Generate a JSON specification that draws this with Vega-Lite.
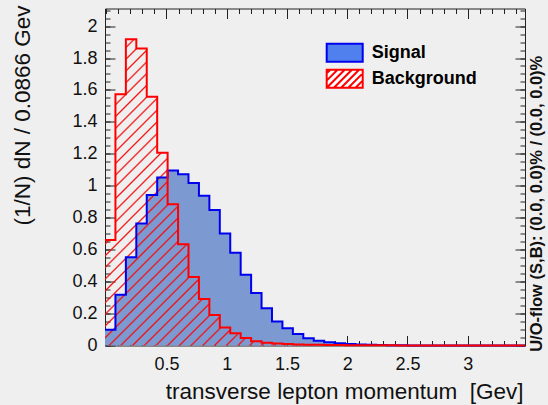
{
"$schema": "https://vega.github.io/schema/vega-lite/v6.json",
"width": 420, "height": 337,
"autosize": {"type": "none"},
"padding": {"left": 105, "top": 8.5, "right": 23, "bottom": 59.5},
"background": "#efefef",
"data": {"values": [
{"x": -0.01, "sig": 0.099, "bkg": 0.66},
{"x": 0.0766, "sig": 0.317, "bkg": 1.573},
{"x": 0.1632, "sig": 0.552, "bkg": 1.918},
{"x": 0.2498, "sig": 0.764, "bkg": 1.86},
{"x": 0.3364, "sig": 0.943, "bkg": 1.558},
{"x": 0.423, "sig": 1.052, "bkg": 1.207},
{"x": 0.5096, "sig": 1.096, "bkg": 0.884},
{"x": 0.5962, "sig": 1.072, "bkg": 0.634},
{"x": 0.6828, "sig": 1.017, "bkg": 0.429},
{"x": 0.7694, "sig": 0.938, "bkg": 0.291},
{"x": 0.856, "sig": 0.849, "bkg": 0.191},
{"x": 0.9426, "sig": 0.702, "bkg": 0.112},
{"x": 1.0292, "sig": 0.581, "bkg": 0.076},
{"x": 1.1158, "sig": 0.443, "bkg": 0.047},
{"x": 1.2024, "sig": 0.328, "bkg": 0.026},
{"x": 1.289, "sig": 0.233, "bkg": 0.018},
{"x": 1.3756, "sig": 0.15, "bkg": 0.013},
{"x": 1.4622, "sig": 0.108, "bkg": 0.009},
{"x": 1.5488, "sig": 0.072, "bkg": 0.007},
{"x": 1.6354, "sig": 0.045, "bkg": 0.005},
{"x": 1.722, "sig": 0.03, "bkg": 0.004},
{"x": 1.8086, "sig": 0.02, "bkg": 0.003},
{"x": 1.8952, "sig": 0.014, "bkg": 0.0025},
{"x": 1.9818, "sig": 0.009, "bkg": 0.002},
{"x": 2.0684, "sig": 0.006, "bkg": 0.0015},
{"x": 2.155, "sig": 0.004, "bkg": 0.0012},
{"x": 2.2416, "sig": 0.003, "bkg": 0.001},
{"x": 2.3282, "sig": 0.002, "bkg": 0.0008},
{"x": 2.4148, "sig": 0.001, "bkg": 0.0006},
{"x": 2.5014, "sig": 0.0005, "bkg": 0.0005},
{"x": 2.588, "sig": 0, "bkg": 0.0004},
{"x": 2.6746, "sig": 0, "bkg": 0.0003},
{"x": 2.7612, "sig": 0, "bkg": 0.0003},
{"x": 2.8478, "sig": 0, "bkg": 0.0002},
{"x": 2.9344, "sig": 0, "bkg": 0.0002},
{"x": 3.021, "sig": 0, "bkg": 0.0001},
{"x": 3.1076, "sig": 0, "bkg": 0.0001},
{"x": 3.1942, "sig": 0, "bkg": 0.0001},
{"x": 3.2808, "sig": 0, "bkg": 0.0001},
{"x": 3.3674, "sig": 0, "bkg": 0.0001},
{"x": 3.475, "sig": 0, "bkg": 0.0001}
]},
"layer": [
{
"mark": {"type": "area", "interpolate": "step-after", "fill": "#7d99d1", "opacity": 1},
"encoding": {
"x": {"field": "x", "type": "quantitative", "scale": {"domain": [-0.01, 3.475], "nice": false, "zero": false},
"axis": {"orient": "bottom", "values": [0.5, 1, 1.5, 2, 2.5, 3], "format": "~g", "tickSize": -10, "labelPadding": 20, "labelFlush": false, "labelOverlap": false, "domain": true,
"title": "transverse lepton momentum \u00a0[Gev]", "titleFontSize": 22.5, "titleX": 418, "titleY": 52.5, "titleAlign": "right", "titleBaseline": "alphabetic", "titleAngle": 0}},
"y": {"field": "sig", "type": "quantitative", "scale": {"domain": [0, 2.11], "nice": false},
"axis": {"orient": "left", "values": [0, 0.2, 0.4, 0.6, 0.8, 1, 1.2, 1.4, 1.6, 1.8, 2], "format": "~g", "tickSize": -10, "labelPadding": 18, "labelFlush": false, "labelOverlap": false, "domain": true,
"title": "(1/N) dN / 0.0866 Gev", "titleFontSize": 22.5, "titleX": -76, "titleY": -3.5, "titleAlign": "right", "titleBaseline": "alphabetic", "titleAngle": -90}}
}
},
{
"mark": {"type": "area", "interpolate": "step-after", "opacity": 1, "fill": {"gradient": "linear", "x1": 0, "y1": 0, "x2": 1.1288, "y2": 0.8234, "stops": [
{"offset":0.0057,"color":"rgba(255,0,0,0)"},{"offset":0.0081,"color":"#ee1111"},{"offset":0.0105,"color":"rgba(255,0,0,0)"},
{"offset":0.0218,"color":"rgba(255,0,0,0)"},{"offset":0.0242,"color":"#ee1111"},{"offset":0.0266,"color":"rgba(255,0,0,0)"},
{"offset":0.0379,"color":"rgba(255,0,0,0)"},{"offset":0.0403,"color":"#ee1111"},{"offset":0.0427,"color":"rgba(255,0,0,0)"},
{"offset":0.0541,"color":"rgba(255,0,0,0)"},{"offset":0.0565,"color":"#ee1111"},{"offset":0.0589,"color":"rgba(255,0,0,0)"},
{"offset":0.0702,"color":"rgba(255,0,0,0)"},{"offset":0.0726,"color":"#ee1111"},{"offset":0.0750,"color":"rgba(255,0,0,0)"},
{"offset":0.0863,"color":"rgba(255,0,0,0)"},{"offset":0.0887,"color":"#ee1111"},{"offset":0.0911,"color":"rgba(255,0,0,0)"},
{"offset":0.1024,"color":"rgba(255,0,0,0)"},{"offset":0.1048,"color":"#ee1111"},{"offset":0.1072,"color":"rgba(255,0,0,0)"},
{"offset":0.1186,"color":"rgba(255,0,0,0)"},{"offset":0.1210,"color":"#ee1111"},{"offset":0.1234,"color":"rgba(255,0,0,0)"},
{"offset":0.1347,"color":"rgba(255,0,0,0)"},{"offset":0.1371,"color":"#ee1111"},{"offset":0.1395,"color":"rgba(255,0,0,0)"},
{"offset":0.1508,"color":"rgba(255,0,0,0)"},{"offset":0.1532,"color":"#ee1111"},{"offset":0.1556,"color":"rgba(255,0,0,0)"},
{"offset":0.1670,"color":"rgba(255,0,0,0)"},{"offset":0.1694,"color":"#ee1111"},{"offset":0.1718,"color":"rgba(255,0,0,0)"},
{"offset":0.1831,"color":"rgba(255,0,0,0)"},{"offset":0.1855,"color":"#ee1111"},{"offset":0.1879,"color":"rgba(255,0,0,0)"},
{"offset":0.1992,"color":"rgba(255,0,0,0)"},{"offset":0.2016,"color":"#ee1111"},{"offset":0.2040,"color":"rgba(255,0,0,0)"},
{"offset":0.2153,"color":"rgba(255,0,0,0)"},{"offset":0.2177,"color":"#ee1111"},{"offset":0.2201,"color":"rgba(255,0,0,0)"},
{"offset":0.2315,"color":"rgba(255,0,0,0)"},{"offset":0.2339,"color":"#ee1111"},{"offset":0.2363,"color":"rgba(255,0,0,0)"},
{"offset":0.2476,"color":"rgba(255,0,0,0)"},{"offset":0.2500,"color":"#ee1111"},{"offset":0.2524,"color":"rgba(255,0,0,0)"},
{"offset":0.2637,"color":"rgba(255,0,0,0)"},{"offset":0.2661,"color":"#ee1111"},{"offset":0.2685,"color":"rgba(255,0,0,0)"},
{"offset":0.2799,"color":"rgba(255,0,0,0)"},{"offset":0.2823,"color":"#ee1111"},{"offset":0.2847,"color":"rgba(255,0,0,0)"},
{"offset":0.2960,"color":"rgba(255,0,0,0)"},{"offset":0.2984,"color":"#ee1111"},{"offset":0.3008,"color":"rgba(255,0,0,0)"},
{"offset":0.3121,"color":"rgba(255,0,0,0)"},{"offset":0.3145,"color":"#ee1111"},{"offset":0.3169,"color":"rgba(255,0,0,0)"},
{"offset":0.3282,"color":"rgba(255,0,0,0)"},{"offset":0.3306,"color":"#ee1111"},{"offset":0.3330,"color":"rgba(255,0,0,0)"},
{"offset":0.3444,"color":"rgba(255,0,0,0)"},{"offset":0.3468,"color":"#ee1111"},{"offset":0.3492,"color":"rgba(255,0,0,0)"},
{"offset":0.3605,"color":"rgba(255,0,0,0)"},{"offset":0.3629,"color":"#ee1111"},{"offset":0.3653,"color":"rgba(255,0,0,0)"},
{"offset":0.3766,"color":"rgba(255,0,0,0)"},{"offset":0.3790,"color":"#ee1111"},{"offset":0.3814,"color":"rgba(255,0,0,0)"},
{"offset":0.3928,"color":"rgba(255,0,0,0)"},{"offset":0.3952,"color":"#ee1111"},{"offset":0.3976,"color":"rgba(255,0,0,0)"},
{"offset":0.4089,"color":"rgba(255,0,0,0)"},{"offset":0.4113,"color":"#ee1111"},{"offset":0.4137,"color":"rgba(255,0,0,0)"},
{"offset":0.4250,"color":"rgba(255,0,0,0)"},{"offset":0.4274,"color":"#ee1111"},{"offset":0.4298,"color":"rgba(255,0,0,0)"},
{"offset":0.4411,"color":"rgba(255,0,0,0)"},{"offset":0.4435,"color":"#ee1111"},{"offset":0.4459,"color":"rgba(255,0,0,0)"},
{"offset":0.4573,"color":"rgba(255,0,0,0)"},{"offset":0.4597,"color":"#ee1111"},{"offset":0.4621,"color":"rgba(255,0,0,0)"},
{"offset":0.4734,"color":"rgba(255,0,0,0)"},{"offset":0.4758,"color":"#ee1111"},{"offset":0.4782,"color":"rgba(255,0,0,0)"},
{"offset":0.4895,"color":"rgba(255,0,0,0)"},{"offset":0.4919,"color":"#ee1111"},{"offset":0.4943,"color":"rgba(255,0,0,0)"},
{"offset":0.5057,"color":"rgba(255,0,0,0)"},{"offset":0.5081,"color":"#ee1111"},{"offset":0.5105,"color":"rgba(255,0,0,0)"},
{"offset":0.5218,"color":"rgba(255,0,0,0)"},{"offset":0.5242,"color":"#ee1111"},{"offset":0.5266,"color":"rgba(255,0,0,0)"},
{"offset":0.5379,"color":"rgba(255,0,0,0)"},{"offset":0.5403,"color":"#ee1111"},{"offset":0.5427,"color":"rgba(255,0,0,0)"},
{"offset":0.5541,"color":"rgba(255,0,0,0)"},{"offset":0.5565,"color":"#ee1111"},{"offset":0.5589,"color":"rgba(255,0,0,0)"},
{"offset":0.5702,"color":"rgba(255,0,0,0)"},{"offset":0.5726,"color":"#ee1111"},{"offset":0.5750,"color":"rgba(255,0,0,0)"},
{"offset":0.5863,"color":"rgba(255,0,0,0)"},{"offset":0.5887,"color":"#ee1111"},{"offset":0.5911,"color":"rgba(255,0,0,0)"},
{"offset":0.6024,"color":"rgba(255,0,0,0)"},{"offset":0.6048,"color":"#ee1111"},{"offset":0.6072,"color":"rgba(255,0,0,0)"},
{"offset":0.6186,"color":"rgba(255,0,0,0)"},{"offset":0.6210,"color":"#ee1111"},{"offset":0.6234,"color":"rgba(255,0,0,0)"},
{"offset":0.6347,"color":"rgba(255,0,0,0)"},{"offset":0.6371,"color":"#ee1111"},{"offset":0.6395,"color":"rgba(255,0,0,0)"},
{"offset":0.6508,"color":"rgba(255,0,0,0)"},{"offset":0.6532,"color":"#ee1111"},{"offset":0.6556,"color":"rgba(255,0,0,0)"},
{"offset":0.6670,"color":"rgba(255,0,0,0)"},{"offset":0.6694,"color":"#ee1111"},{"offset":0.6718,"color":"rgba(255,0,0,0)"},
{"offset":0.6831,"color":"rgba(255,0,0,0)"},{"offset":0.6855,"color":"#ee1111"},{"offset":0.6879,"color":"rgba(255,0,0,0)"},
{"offset":0.6992,"color":"rgba(255,0,0,0)"},{"offset":0.7016,"color":"#ee1111"},{"offset":0.7040,"color":"rgba(255,0,0,0)"},
{"offset":0.7153,"color":"rgba(255,0,0,0)"},{"offset":0.7177,"color":"#ee1111"},{"offset":0.7201,"color":"rgba(255,0,0,0)"},
{"offset":0.7315,"color":"rgba(255,0,0,0)"},{"offset":0.7339,"color":"#ee1111"},{"offset":0.7363,"color":"rgba(255,0,0,0)"},
{"offset":0.7476,"color":"rgba(255,0,0,0)"},{"offset":0.7500,"color":"#ee1111"},{"offset":0.7524,"color":"rgba(255,0,0,0)"},
{"offset":0.7637,"color":"rgba(255,0,0,0)"},{"offset":0.7661,"color":"#ee1111"},{"offset":0.7685,"color":"rgba(255,0,0,0)"},
{"offset":0.7799,"color":"rgba(255,0,0,0)"},{"offset":0.7823,"color":"#ee1111"},{"offset":0.7847,"color":"rgba(255,0,0,0)"},
{"offset":0.7960,"color":"rgba(255,0,0,0)"},{"offset":0.7984,"color":"#ee1111"},{"offset":0.8008,"color":"rgba(255,0,0,0)"},
{"offset":0.8121,"color":"rgba(255,0,0,0)"},{"offset":0.8145,"color":"#ee1111"},{"offset":0.8169,"color":"rgba(255,0,0,0)"},
{"offset":0.8282,"color":"rgba(255,0,0,0)"},{"offset":0.8306,"color":"#ee1111"},{"offset":0.8330,"color":"rgba(255,0,0,0)"},
{"offset":0.8444,"color":"rgba(255,0,0,0)"},{"offset":0.8468,"color":"#ee1111"},{"offset":0.8492,"color":"rgba(255,0,0,0)"},
{"offset":0.8605,"color":"rgba(255,0,0,0)"},{"offset":0.8629,"color":"#ee1111"},{"offset":0.8653,"color":"rgba(255,0,0,0)"},
{"offset":0.8766,"color":"rgba(255,0,0,0)"},{"offset":0.8790,"color":"#ee1111"},{"offset":0.8814,"color":"rgba(255,0,0,0)"},
{"offset":0.8928,"color":"rgba(255,0,0,0)"},{"offset":0.8952,"color":"#ee1111"},{"offset":0.8976,"color":"rgba(255,0,0,0)"},
{"offset":0.9089,"color":"rgba(255,0,0,0)"},{"offset":0.9113,"color":"#ee1111"},{"offset":0.9137,"color":"rgba(255,0,0,0)"},
{"offset":0.9250,"color":"rgba(255,0,0,0)"},{"offset":0.9274,"color":"#ee1111"},{"offset":0.9298,"color":"rgba(255,0,0,0)"},
{"offset":0.9411,"color":"rgba(255,0,0,0)"},{"offset":0.9435,"color":"#ee1111"},{"offset":0.9459,"color":"rgba(255,0,0,0)"},
{"offset":0.9573,"color":"rgba(255,0,0,0)"},{"offset":0.9597,"color":"#ee1111"},{"offset":0.9621,"color":"rgba(255,0,0,0)"},
{"offset":0.9734,"color":"rgba(255,0,0,0)"},{"offset":0.9758,"color":"#ee1111"},{"offset":0.9782,"color":"rgba(255,0,0,0)"},
{"offset":0.9895,"color":"rgba(255,0,0,0)"},{"offset":0.9919,"color":"#ee1111"},{"offset":0.9943,"color":"rgba(255,0,0,0)"}
]}},
"encoding": {
"x": {"field": "x", "type": "quantitative", "scale": {"domain": [-0.01, 3.475], "nice": false, "zero": false},
"axis": {"orient": "bottom", "values": [0,0.1,0.2,0.3,0.4,0.5,0.6,0.7,0.8,0.9,1,1.1,1.2,1.3,1.4,1.5,1.6,1.7,1.8,1.9,2,2.1,2.2,2.3,2.4,2.5,2.6,2.7,2.8,2.9,3,3.1,3.2,3.3,3.4], "tickSize": -5, "labels": false, "domain": false, "title": null}},
"y": {"field": "bkg", "type": "quantitative", "scale": {"domain": [0, 2.11], "nice": false},
"axis": {"orient": "left", "values": [0,0.05,0.1,0.15,0.2,0.25,0.3,0.35,0.4,0.45,0.5,0.55,0.6,0.65,0.7,0.75,0.8,0.85,0.9,0.95,1,1.05,1.1,1.15,1.2,1.25,1.3,1.35,1.4,1.45,1.5,1.55,1.6,1.65,1.7,1.75,1.8,1.85,1.9,1.95,2,2.05,2.1], "tickSize": -5, "labels": false, "domain": false, "title": null}}
}
},
{
"mark": {"type": "line", "interpolate": "step-after", "stroke": "#0000ee", "strokeWidth": 2},
"encoding": {
"x": {"field": "x", "type": "quantitative", "scale": {"domain": [-0.01, 3.475], "nice": false, "zero": false},
"axis": {"orient": "top", "values": [0.5, 1, 1.5, 2, 2.5, 3], "tickSize": -10, "labels": false, "domain": true, "title": null}},
"y": {"field": "sig", "type": "quantitative", "scale": {"domain": [0, 2.11], "nice": false},
"axis": {"orient": "right", "values": [0, 0.2, 0.4, 0.6, 0.8, 1, 1.2, 1.4, 1.6, 1.8, 2], "tickSize": -10, "labels": false, "domain": true,
"title": "U/O-flow (S,B): (0.0, 0.0)% / (0.0, 0.0)%", "titleFontSize": 16.5, "titleFontWeight": "bold", "titleX": 16, "titleY": 194.8, "titleAlign": "center", "titleBaseline": "alphabetic", "titleAngle": -90}}
}
},
{
"mark": {"type": "line", "interpolate": "step-after", "stroke": "#ff0000", "strokeWidth": 2},
"encoding": {
"x": {"field": "x", "type": "quantitative", "scale": {"domain": [-0.01, 3.475], "nice": false, "zero": false},
"axis": {"orient": "top", "values": [0,0.1,0.2,0.3,0.4,0.5,0.6,0.7,0.8,0.9,1,1.1,1.2,1.3,1.4,1.5,1.6,1.7,1.8,1.9,2,2.1,2.2,2.3,2.4,2.5,2.6,2.7,2.8,2.9,3,3.1,3.2,3.3,3.4], "tickSize": -5, "labels": false, "domain": false, "title": null}},
"y": {"field": "bkg", "type": "quantitative", "scale": {"domain": [0, 2.11], "nice": false},
"axis": {"orient": "right", "values": [0,0.05,0.1,0.15,0.2,0.25,0.3,0.35,0.4,0.45,0.5,0.55,0.6,0.65,0.7,0.75,0.8,0.85,0.9,0.95,1,1.05,1.1,1.15,1.2,1.25,1.3,1.35,1.4,1.45,1.5,1.55,1.6,1.65,1.7,1.75,1.8,1.85,1.9,1.95,2,2.05,2.1], "tickSize": -5, "labels": false, "domain": false, "title": null}}
}
},
{
"data": {"values": []},
"mark": {"type": "point", "filled": true, "opacity": 1, "strokeWidth": 2},
"encoding": {
"stroke": {"field": "type", "type": "nominal", "scale": {"domain": ["Signal", "Background"], "range": ["#0000ee", "#ff0000"]},
"legend": {"title": null, "orient": "none", "legendX": 229.7, "legendY": 34.3, "padding": 0, "symbolSize": 324, "symbolStrokeWidth": 2, "symbolOpacity": 1,
"labelFont": "Liberation Sans", "labelFontSize": 18, "labelFontWeight": "bold", "labelColor": "#000", "labelOffset": 17, "rowPadding": 0}},
"fill": {"field": "type", "type": "nominal", "scale": {"domain": ["Signal", "Background"], "range": ["#5080ee", "#ffffff"]},
"legend": {"title": null, "orient": "none", "legendX": 229.7, "legendY": 34.3, "padding": 0, "symbolSize": 324, "symbolStrokeWidth": 2, "symbolOpacity": 1,
"labelFont": "Liberation Sans", "labelFontSize": 18, "labelFontWeight": "bold", "labelColor": "#000", "labelOffset": 17, "rowPadding": 0}},
"shape": {"field": "type", "type": "nominal", "scale": {"domain": ["Signal", "Background"], "range": ["M-2,-1H2V1H-2Z", "M-2,-1H2V1H-2Z M-2,-0.6L-1.6,-1 M-2,0.2L-0.8,-1 M-2,1L0,-1 M-1.2,1L0.8,-1 M-0.4,1L1.6,-1 M0.4,1L2,-0.6 M1.2,1L2,0.2"]},
"legend": {"title": null, "orient": "none", "legendX": 229.7, "legendY": 34.3, "padding": 0, "symbolSize": 324, "symbolStrokeWidth": 2, "symbolOpacity": 1,
"labelFont": "Liberation Sans", "labelFontSize": 18, "labelFontWeight": "bold", "labelColor": "#000", "labelOffset": 17, "rowPadding": 0}}
}
}
],
"resolve": {"axis": {"x": "independent", "y": "independent"}},
"config": {
"view": {"fill": "white", "stroke": null},
"axis": {"grid": false, "zindex": 1, "tickColor": "#222", "tickWidth": 1, "domainColor": "#222", "domainWidth": 1,
"labelFont": "Liberation Sans", "labelFontSize": 18, "labelColor": "#111",
"titleFont": "Liberation Sans", "titleFontSize": 21, "titleFontWeight": "normal", "titleColor": "#111"}
}
}
